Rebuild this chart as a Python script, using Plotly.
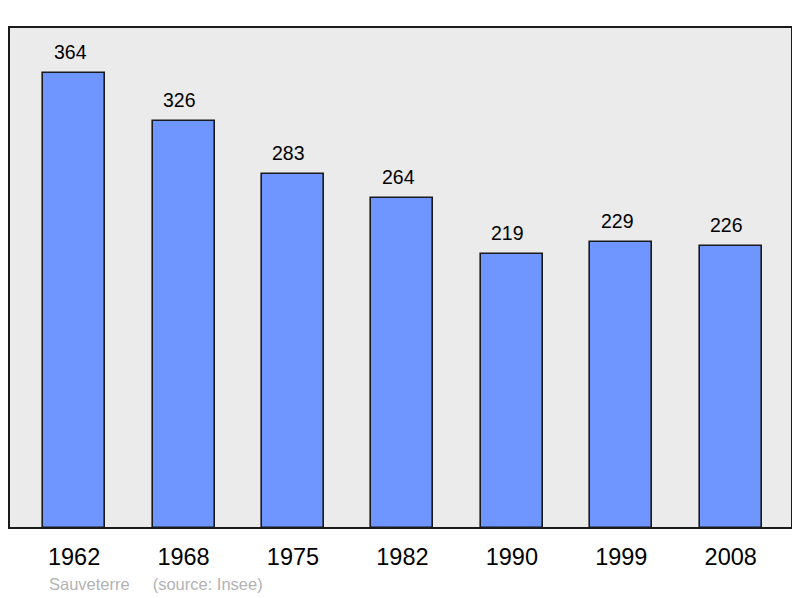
import plotly.graph_objects as go

years = ["1962", "1968", "1975", "1982", "1990", "1999", "2008"]
population = [364, 326, 283, 264, 219, 229, 226]
commune = "Sauveterre"
source = "(source: Insee)"

xs = list(range(len(years)))

fig = go.Figure()
fig.add_trace(go.Bar(
    x=xs, y=population, width=0.567,
    marker=dict(color="#6f96ff", line=dict(color="#1a1a1a", width=1.6)),
    hoverinfo="skip",
))

for x, v in zip(xs, population):
    fig.add_annotation(x=x, y=v, xref="x", yref="y", text=str(v), showarrow=False,
                       yanchor="middle", yshift=21, xshift=-4,
                       font=dict(family="Liberation Sans, Arial", size=19.5, color="#000"))

# figure is placed at (8, 8) in the page by the default body margin
fig.add_annotation(xref="paper", yref="paper", x=(47 - 9) / 783, y=-(584 - 528) / 501,
                   xanchor="left", yanchor="middle", showarrow=False,
                   text=commune + "&nbsp;&nbsp;&nbsp;&nbsp;&nbsp;" + source,
                   font=dict(family="Liberation Sans, Arial", size=16.5, color="#b3b3b3"))

fig.update_layout(
    width=792, height=590,
    margin=dict(l=1, r=8, t=19, b=70),
    paper_bgcolor="white", plot_bgcolor="#ebebeb",
    showlegend=False, bargap=0,
    xaxis=dict(range=[-0.595, 6.56], tickvals=xs, ticktext=years, showgrid=False,
               zeroline=False, ticks="", ticklabelstandoff=12,
               tickfont=dict(family="Liberation Sans, Arial", size=23.5, color="#000"),
               fixedrange=True),
    yaxis=dict(range=[0, 400.8], showgrid=False, zeroline=False, showticklabels=False,
               ticks="", fixedrange=True),
)
fig.add_shape(type="rect", xref="paper", yref="paper", x0=0, y0=0, x1=1, y1=1,
              line=dict(color="#1a1a1a", width=2), layer="above")

fig.write_html("out.html")
